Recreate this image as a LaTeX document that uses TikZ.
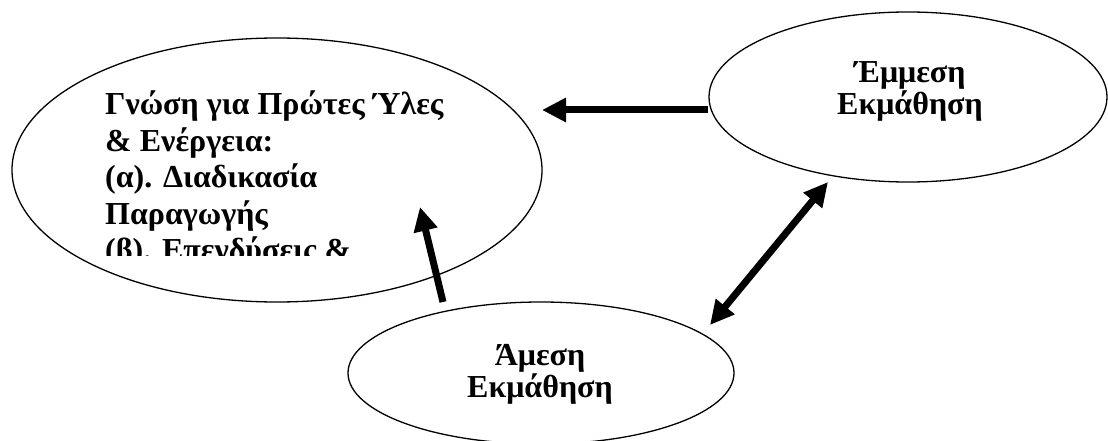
\documentclass[tikz,border=0pt]{standalone}
\usepackage{fontspec}
\setmainfont{Liberation Serif}
\usetikzlibrary{shapes.geometric,arrows.meta}

\begin{document}
\begin{tikzpicture}[x=1pt, y=-1pt,
  bubble/.style={draw, ellipse, line width=1.3pt, inner sep=0},
  bubtext/.style={font=\bfseries\fontsize{32}{32}\selectfont, align=center, inner sep=0},
  bigarrow/.style={line width=7pt, -{Triangle[length=24pt, width=23pt]}}]
\useasboundingbox (0,0) rectangle (1108,441);
%ellipses
\node[bubble, minimum width=530pt, minimum height=264pt] (gnosi) at (277,170) {};
\node[bubble, minimum width=398pt, minimum height=170pt] (emmesi) at (908,97) {};
\node[bubble, minimum width=386pt, minimum height=142pt] (amesi) at (541,373) {};
%texts
\begin{scope}
\clip (0,0) rectangle (1108,255);
\node[bubtext, align=left, anchor=north west, font=\bfseries\fontsize{32}{36.5}\selectfont] (gnosi-t) at (105,91)
  {Γνώση για Πρώτες Ύλες\\\& Ενέργεια:\\(α). Διαδικασία\\Παραγωγής\\(β). Επενδύσεις \&};
\end{scope}
\node[bubtext] (emmesi-t) at (910,91) {Έμμεση\\Εκμάθηση};
\node[bubtext] (amesi-t) at (540,374) {Άμεση\\Εκμάθηση};
%arrows
\coordinate (t1) at (542,110);
\coordinate (t2) at (420,207);
\coordinate (s1) at (708,110);
\coordinate (s2) at (443,302);
\coordinate (d1) at (710,325);
\coordinate (d2) at (828,182);
\draw [bigarrow] (s1) -- (t1);
\draw [bigarrow] (s2) -- (t2);
\draw [bigarrow, {Triangle[length=24pt, width=23pt]}-{Triangle[length=24pt, width=23pt]}] (d1) -- (d2);
\end{tikzpicture}
\end{document}
